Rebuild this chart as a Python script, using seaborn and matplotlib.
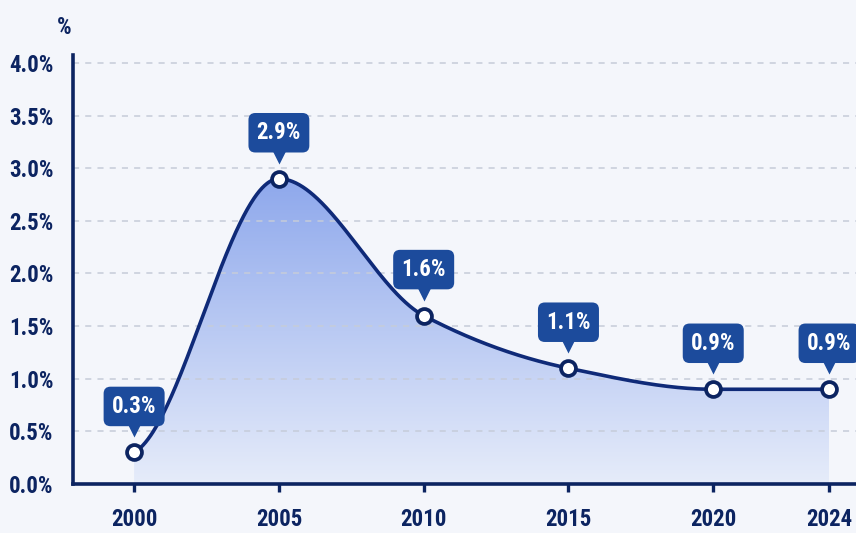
import numpy as np
import matplotlib
matplotlib.use("Agg")
import matplotlib.pyplot as plt
from matplotlib import font_manager as fm
from matplotlib.transforms import offset_copy
from matplotlib.colors import LinearSegmentedColormap
import seaborn as sns

# ---- data -------------------------------------------------------------
years = [2000, 2005, 2010, 2015, 2020, 2024]
rates = [0.3, 2.9, 1.6, 1.1, 0.9, 0.9]
value_labels = ["0.3%", "2.9%", "1.6%", "1.1%", "0.9%", "0.9%"]
y_ticks = [0.0, 0.5, 1.0, 1.5, 2.0, 2.5, 3.0, 3.5, 4.0]
y_tick_labels = ["0.0%", "0.5%", "1.0%", "1.5%", "2.0%", "2.5%", "3.0%", "3.5%", "4.0%"]
x_tick_labels = ["2000", "2005", "2010", "2015", "2020", "2024"]

# ---- style ------------------------------------------------------------
NAVY = "#0c2461"
LINE = "#0f2a78"
BOX = "#1c4b9c"
BG = "#f4f6fb"
GRID = "#c6ccd9"

sns.set_theme(style="white")
installed = {f.name for f in fm.fontManager.ttflist}
if "Roboto Condensed" in installed:
    FAMILY, FS = "Roboto Condensed", 16.5
else:
    FAMILY, FS = "Roboto", 14.5
plt.rcParams["font.family"] = [FAMILY, "DejaVu Sans"]
plt.rcParams["font.weight"] = "bold"


def smooth_curve(x, y, xs, start_slope=None, end_slope=None):
    """Shape-preserving cubic Hermite curve through the points."""
    x = np.asarray(x, float)
    y = np.asarray(y, float)
    h = np.diff(x)
    d = np.diff(y) / h
    m = np.zeros_like(y)
    for k in range(1, len(x) - 1):
        if d[k - 1] * d[k] > 0:
            w1 = 2 * h[k] + h[k - 1]
            w2 = h[k] + 2 * h[k - 1]
            m[k] = (w1 + w2) / (w1 / d[k - 1] + w2 / d[k])
    m[0] = d[0] if start_slope is None else start_slope
    m[-1] = d[-1] if end_slope is None else end_slope
    idx = np.clip(np.searchsorted(x, xs) - 1, 0, len(x) - 2)
    t = (xs - x[idx]) / h[idx]
    h00 = 2 * t**3 - 3 * t**2 + 1
    h10 = t**3 - 2 * t**2 + t
    h01 = -2 * t**3 + 3 * t**2
    h11 = t**3 - t**2
    return (h00 * y[idx] + h10 * h[idx] * m[idx]
            + h01 * y[idx + 1] + h11 * h[idx] * m[idx + 1])


fig = plt.figure(figsize=(8.56, 5.33), dpi=100, facecolor=BG)
ax = fig.add_axes([0.0853, 0.0919, 0.9147, 0.805])
ax.set_facecolor(BG)

xs = np.linspace(years[0], years[-1], 800)
ys = smooth_curve(years, rates, xs, start_slope=0.15, end_slope=0.0)

# gradient area under the curve
area = ax.fill_between(xs, ys, 0, color="none", lw=0)
clip_path = area.get_paths()[0]
cmap = LinearSegmentedColormap.from_list("area", ["#e6ecfa", "#8ea8ec"])
grad = np.linspace(0, 1, 256).reshape(-1, 1)
im = ax.imshow(grad, extent=[years[0], years[-1], 0, max(rates)],
               origin="lower", aspect="auto", cmap=cmap, zorder=0.3)
im.set_clip_path(clip_path, transform=ax.transData)

# curve and markers
ax.plot(xs, ys, color=LINE, lw=2.6, zorder=3, solid_capstyle="round")
sns.scatterplot(x=years, y=rates, ax=ax, s=115, color="white",
                edgecolor=NAVY, linewidth=2.7, zorder=5, legend=False)

# value callouts
pointer_tf = offset_copy(ax.transData, fig=fig, x=0, y=22, units="dots")
for xv, yv, lab in zip(years, rates, value_labels):
    ax.plot(xv, yv, marker="v", ms=10, color=BOX, mec="none",
            transform=pointer_tf, zorder=6, clip_on=False)
    ax.annotate(lab, (xv, yv), xytext=(0, 46), textcoords="offset pixels",
                ha="center", va="center", color="white", fontsize=FS,
                fontweight="bold", zorder=7, annotation_clip=False,
                bbox=dict(boxstyle="round,pad=0.36,rounding_size=0.3",
                          fc=BOX, ec="none"))

# axes, ticks, grid
ax.set_xlim(1997.89, 2024.93)
ax.set_ylim(0, 4.076)
ax.set_xticks(years)
ax.set_xticklabels(x_tick_labels)
ax.set_yticks(y_ticks)
ax.set_yticklabels(y_tick_labels)
ax.set_axisbelow(True)
ax.yaxis.grid(True, linestyle=(0, (4, 4)), color=GRID, lw=1.1)
ax.xaxis.grid(False)

for side in ("top", "right"):
    ax.spines[side].set_visible(False)
for side in ("left", "bottom"):
    ax.spines[side].set_color(NAVY)
    ax.spines[side].set_linewidth(2.6)
    ax.spines[side].set_zorder(4)

ax.tick_params(axis="x", length=6, width=2.4, color=NAVY, pad=11,
               labelsize=FS, labelcolor=NAVY, direction="out", bottom=True)
ax.tick_params(axis="y", length=0, pad=14, labelsize=FS, labelcolor=NAVY)
for t in ax.get_xticklabels() + ax.get_yticklabels():
    t.set_fontweight("bold")

fig.text(0.075, 0.949, "%", ha="center", va="center", fontsize=FS,
         fontweight="bold", color=NAVY)

fig.savefig("out.png", dpi=100, facecolor=BG)
